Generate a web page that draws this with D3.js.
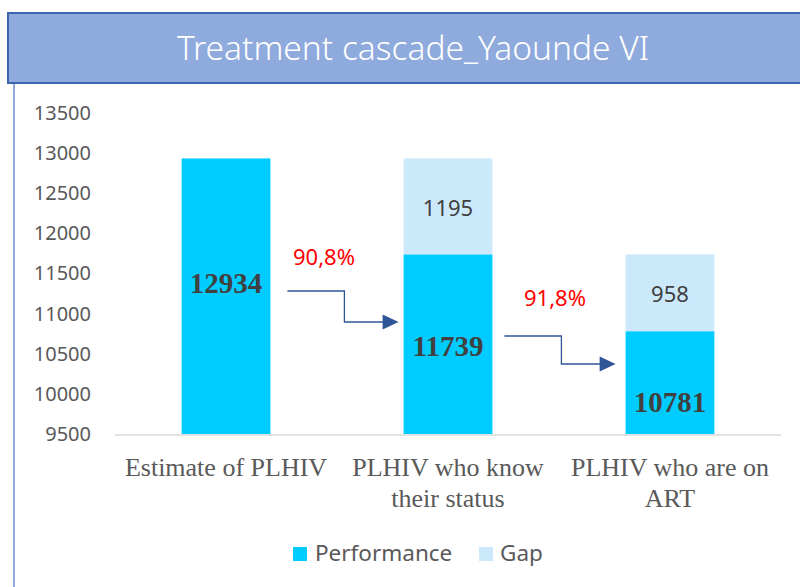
<!DOCTYPE html>
<html>
<head>
<meta charset="utf-8">
<script src="https://cdn.jsdelivr.net/npm/d3@7"></script>
<style>
  html, body { margin: 0; padding: 0; background: #ffffff; }
  svg { display: block; }
</style>
</head>
<body>
<div id="chart"></div>
<script>
// ---- data ----
const title = "Treatment cascade_Yaounde VI";
const categories = ["Estimate of PLHIV", "PLHIV who know their status", "PLHIV who are on ART"];
const categoryLines = [["Estimate of PLHIV"], ["PLHIV who know", "their status"], ["PLHIV who are on", "ART"]];
const performance = [12934, 11739, 10781];
const gap = [0, 1195, 958];
const seriesNames = ["Performance", "Gap"];
const yTicks = [9500, 10000, 10500, 11000, 11500, 12000, 12500, 13000, 13500];
const percentLabels = ["90,8%", "91,8%"];

// ---- layout ----
const W = 800, H = 587;
const colors = { Performance: "#00CCFF", Gap: "#CCE9FC" };

const svg = d3.select("#chart").append("svg")
  .attr("width", W).attr("height", H);

// title bar
svg.append("rect")
  .attr("x", 8).attr("y", 13).attr("width", 830).attr("height", 70)
  .attr("fill", "#8FAADC").attr("stroke", "#3D64AC").attr("stroke-width", 2);
svg.append("line")
  .attr("x1", 14).attr("x2", 14).attr("y1", 84).attr("y2", H)
  .attr("stroke", "#8FAADC").attr("stroke-width", 2);
svg.append("text")
  .attr("x", 413).attr("y", 60)
  .attr("text-anchor", "middle")
  .attr("font-family", "'Noto Sans', 'Open Sans', sans-serif")
  .attr("font-weight", 300)
  .attr("font-size", 33.5)
  .attr("fill", "#ffffff")
  .text(title);

// scales
const y = d3.scaleLinear().domain([9500, 13500]).range([434, 113]);
const x = d3.scaleBand().domain(categories).range([115, 781])
  .paddingInner(0.6).paddingOuter(0.3);

// y axis (labels only)
const yAxis = d3.axisLeft(y).tickValues(yTicks).tickSize(0).tickPadding(0)
  .tickFormat(d3.format("d"));
const gy = svg.append("g").attr("transform", "translate(91,0)").call(yAxis);
gy.select(".domain").remove();
gy.selectAll("text")
  .attr("font-family", "'Noto Sans', 'Open Sans', sans-serif")
  .attr("font-size", 20)
  .attr("fill", "#595959");

// baseline
svg.append("line")
  .attr("x1", 115).attr("x2", 781)
  .attr("y1", y(9500) + 1).attr("y2", y(9500) + 1)
  .attr("stroke", "#D9D9D9").attr("stroke-width", 1.5);

// stacked data
const rows = categories.map((c, i) => ({ c, perf: performance[i], gap: gap[i] }));

// bars
svg.append("g").selectAll("rect.perf").data(rows).join("rect")
  .attr("class", "perf")
  .attr("x", d => x(d.c)).attr("width", x.bandwidth())
  .attr("y", d => y(d.perf)).attr("height", d => y(9500) - y(d.perf))
  .attr("fill", colors.Performance);

svg.append("g").selectAll("rect.gap").data(rows.filter(d => d.gap > 0)).join("rect")
  .attr("class", "gap")
  .attr("x", d => x(d.c)).attr("width", x.bandwidth())
  .attr("y", d => y(d.perf + d.gap)).attr("height", d => y(d.perf) - y(d.perf + d.gap))
  .attr("fill", colors.Gap);

// performance labels (placed manually within the bar, as in the original)
const perfLabelFrac = [0.45, 0.51, 0.69];
svg.append("g").selectAll("text").data(rows).join("text")
  .attr("x", d => x(d.c) + x.bandwidth() / 2)
  .attr("y", (d, i) => y(d.perf) + perfLabelFrac[i] * (y(9500) - y(d.perf)))
  .attr("dy", "0.35em")
  .attr("text-anchor", "middle")
  .attr("font-family", "'Liberation Serif', 'Times New Roman', serif")
  .attr("font-weight", "bold")
  .attr("font-size", 29)
  .attr("fill", "#404040")
  .text(d => d.perf);

// gap labels
svg.append("g").selectAll("text").data(rows.filter(d => d.gap > 0)).join("text")
  .attr("x", d => x(d.c) + x.bandwidth() / 2)
  .attr("y", d => (y(d.perf) + y(d.perf + d.gap)) / 2)
  .attr("dy", "0.42em")
  .attr("text-anchor", "middle")
  .attr("font-family", "'Noto Sans', 'Open Sans', sans-serif")
  .attr("font-size", 22)
  .attr("fill", "#404040")
  .text(d => d.gap);

// category labels
const gx = svg.append("g");
categoryLines.forEach((lines, i) => {
  const t = gx.append("text")
    .attr("text-anchor", "middle")
    .attr("font-family", "'Liberation Serif', 'Times New Roman', serif")
    .attr("font-size", 26)
    .attr("fill", "#595959");
  lines.forEach((ln, j) => {
    t.append("tspan")
      .attr("x", x(categories[i]) + x.bandwidth() / 2)
      .attr("y", 476 + j * 31)
      .text(ln);
  });
});

// arrows between bars
const arrowColor = "#2F5597";
const arrows = [
  { from: 0, to: 1, y1: 291, y2: 322, pct: 0, px: 324, py: 265 },
  { from: 1, to: 2, y1: 336, y2: 364, pct: 1, px: 555, py: 306 }
];
arrows.forEach((a, k) => {
  const xs = x(categories[a.from]) + x.bandwidth() + (k === 0 ? 17 : 12);
  const xe = x(categories[a.to]) - (k === 0 ? 5 : 10);
  const xm = xs + 57;
  const head = 16, hh = 7.5;
  svg.append("path")
    .attr("d", `M${xs},${a.y1}H${xm}V${a.y2}H${xe - head + 1}`)
    .attr("fill", "none").attr("stroke", arrowColor).attr("stroke-width", 1.3);
  svg.append("path")
    .attr("d", `M${xe},${a.y2}L${xe - head},${a.y2 - hh}L${xe - head},${a.y2 + hh}Z`)
    .attr("fill", arrowColor);
  svg.append("text")
    .attr("x", a.px).attr("y", a.py)
    .attr("text-anchor", "middle")
    .attr("font-family", "'Noto Sans', 'Open Sans', sans-serif")
    .attr("font-size", 22)
    .attr("fill", "#FF0000")
    .text(percentLabels[a.pct]);
});

// legend
const legend = svg.append("g");
const legendItems = [
  { name: seriesNames[0], sx: 293, tx: 315 },
  { name: seriesNames[1], sx: 479, tx: 500 }
];
legendItems.forEach(it => {
  legend.append("rect")
    .attr("x", it.sx).attr("y", 547).attr("width", 14).attr("height", 14)
    .attr("fill", colors[it.name]);
  legend.append("text")
    .attr("x", it.tx).attr("y", 561)
    .attr("font-family", "'Noto Sans', 'Open Sans', sans-serif")
    .attr("font-size", 22.5)
    .attr("fill", "#595959")
    .text(it.name);
});
</script>
</body>
</html>
